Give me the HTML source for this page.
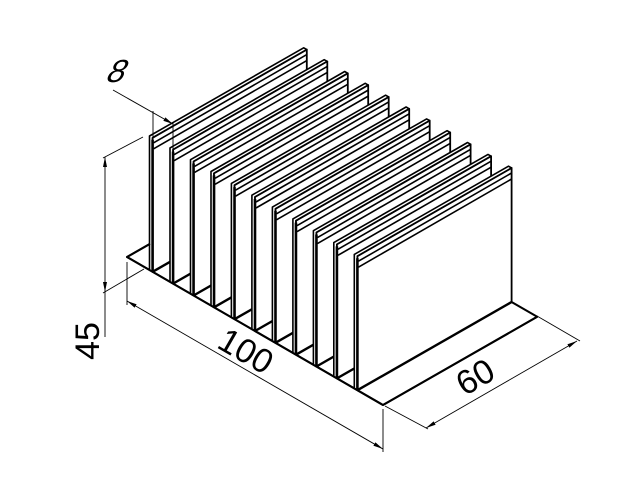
<!DOCTYPE html>
<html><head><meta charset="utf-8"><style>
html,body{margin:0;padding:0;background:#fff;width:640px;height:480px;overflow:hidden}
svg text{font-family:"Liberation Sans","DejaVu Sans",sans-serif;fill:#000}
</style></head><body>
<svg id="s" width="640" height="480" viewBox="0 0 640 480" xmlns="http://www.w3.org/2000/svg">
<defs>
<marker id="ar" viewBox="0 0 10 4" refX="10" refY="2" markerWidth="10" markerHeight="4" orient="auto-start-reverse" markerUnits="userSpaceOnUse"><path d="M0,0 L10,2 L0,4 z" fill="#000"/></marker>
</defs>
<g id="fins" stroke="#000" stroke-linejoin="round"></g>
<g stroke="#000" stroke-width="0.9" fill="none">
<line x1="113" y1="90" x2="173" y2="124" marker-end="url(#ar)"/>
<line x1="153" y1="111" x2="153" y2="140"/>
<line x1="173" y1="122" x2="173" y2="160"/>
<line x1="105" y1="157" x2="105" y2="292" marker-start="url(#ar)" marker-end="url(#ar)"/>
<line x1="105" y1="292" x2="105" y2="337"/>
<line x1="103" y1="158" x2="143" y2="137"/>
<line x1="103" y1="293" x2="144" y2="269"/>
<line x1="127" y1="262" x2="127" y2="305"/>
<line x1="383" y1="409" x2="383" y2="452"/>
<line x1="127" y1="301" x2="383" y2="449" marker-start="url(#ar)" marker-end="url(#ar)"/>
<line x1="385" y1="406" x2="428" y2="429"/>
<line x1="537" y1="316" x2="580" y2="341"/>
<line x1="426" y1="428" x2="577" y2="341" marker-start="url(#ar)" marker-end="url(#ar)"/>
</g>
<text x="0" y="0" font-size="32" transform="translate(113,82) skewX(-25) rotate(0)" text-anchor="middle">8</text>
<text x="0" y="0" font-size="34" transform="translate(99,341) rotate(-90)" text-anchor="middle">45</text>
<text x="0" y="0" font-size="34" transform="translate(240,361) rotate(30)" text-anchor="middle">100</text>
<text x="0" y="0" font-size="34" transform="translate(481,387) rotate(-30)" text-anchor="middle">60</text>
</svg>
<script>
(function(){
var g=document.getElementById('fins');var NS='http://www.w3.org/2000/svg';
function el(n,a){var e=document.createElementNS(NS,n);for(var k in a)e.setAttribute(k,a[k]);g.appendChild(e);return e;}
var A=[127,257],u=[2.56,1.48],v=[2.57,-1.47],H=134;
function P(t,d,h){return [A[0]+u[0]*t+v[0]*d, A[1]+u[1]*t+v[1]*d-h];}
function pts(a){return a.map(function(p){return p[0].toFixed(1)+','+p[1].toFixed(1)}).join(' ');}
el('polygon',{points:pts([P(0,0,0),P(100,0,0),P(100,60,0),P(0,60,0)]),fill:'#fff','stroke-width':2});
for(var i=0;i<11;i++){
 var t=10+8*i, th=1.2;
 var f0=P(t,0,0),f1=P(t,0,H),f2=P(t,60,H),f3=P(t,60,0);
 var b0=P(t-th,0,0),b1=P(t-th,0,H),b2=P(t-th,60,H);
 el('polygon',{points:pts([b0,b1,b2,f2,f1,f0]),fill:'#fff','stroke-width':1.6});
 el('polygon',{points:pts([f0,f1,f2,f3]),fill:'#fff','stroke-width':1.8});
 var l1a=P(t,0,H-5),l1b=P(t,60,H-5),l2a=P(t,0,H-11),l2b=P(t,60,H-11);
 el('line',{x1:l1a[0]+1,y1:l1a[1],x2:l1b[0],y2:l1b[1],'stroke-width':1.6});
 el('line',{x1:l2a[0]+1,y1:l2a[1],x2:l2b[0],y2:l2b[1],'stroke-width':1.6});
 el('line',{x1:f0[0],y1:f0[1],x2:f3[0],y2:f3[1],'stroke-width':2.4});
 el('line',{x1:f0[0],y1:f0[1],x2:f1[0],y2:f1[1]+2,'stroke-width':2.6});
}
var a=P(0,0,0),b=P(100,0,0),c=P(100,60,0);
el('polyline',{points:pts([P(0,9,0),a,b,c]),fill:'none','stroke-width':2});
})();
</script>
</body></html>
